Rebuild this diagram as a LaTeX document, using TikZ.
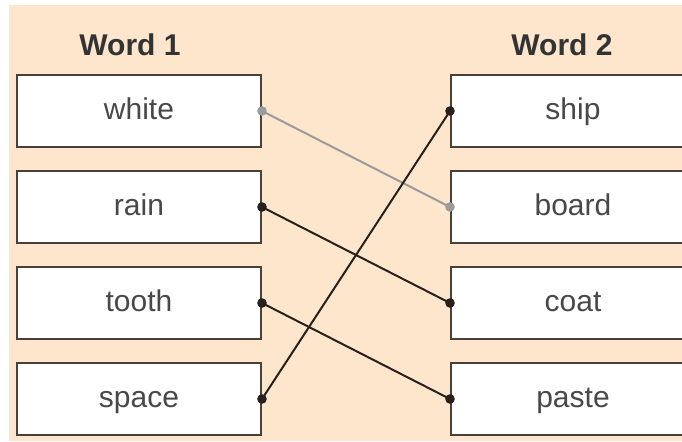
\documentclass[tikz,border=0pt]{standalone}
\usepackage{fontspec}
\setmainfont{Liberation Sans}
\usetikzlibrary{positioning}
\definecolor{peach}{RGB}{253,230,204}
\definecolor{boxline}{RGB}{72,64,58}
\definecolor{wordtext}{RGB}{72,72,72}
\definecolor{darkline}{RGB}{40,32,28}
\definecolor{greyline}{RGB}{155,155,155}

\begin{document}
\begin{tikzpicture}[x=0.5pt,y=-0.5pt]
\tikzstyle{word} = [rectangle, draw=boxline, line width=1pt, fill=white,
minimum width=122pt, minimum height=36pt, inner sep=0pt,
text=wordtext, text height=0.8em, text depth=0pt, font=\fontsize{15}{17}\selectfont]
\tikzstyle{heading} = [font=\bfseries\fontsize{15}{18}\selectfont, text=black!80]
\tikzstyle{line} = [draw, line width=1pt];
\tikzstyle{dot} = [radius=2.4pt];

\useasboundingbox (0,0) rectangle (682,441);
\clip (0,0) rectangle (682,441);
\fill[white] (0,0) rectangle (682,441);
\fill[peach] (9,5) rectangle (682,441);

% column 1
\node [heading] (word1) at (130,45) {Word 1};
\node [word] (white) at (139,111) {white};
\node [word, below=11pt of white] (rain) {rain};
\node [word, below=11pt of rain] (tooth) {tooth};
\node [word, below=11pt of tooth] (space) {space};

% column 2
\node [heading] (word2) at (562,45) {Word 2};
\node [word, right=94pt of white] (ship) {ship};
\node [word, right=94pt of rain] (board) {board};
\node [word, right=94pt of tooth] (coat) {coat};
\node [word, right=94pt of space] (paste) {paste};

% matches
\path [line, draw=greyline] (white.east) -- (board.west);
\path [line, draw=darkline] (space.east) -- (ship.west);
\path [line, draw=darkline] (rain.east) -- (coat.west);
\path [line, draw=darkline] (tooth.east) -- (paste.west);

\fill [greyline, dot] (white.east) circle;
\fill [greyline, dot] (board.west) circle;
\fill [darkline, dot] (space.east) circle;
\fill [darkline, dot] (ship.west) circle;
\fill [darkline, dot] (rain.east) circle;
\fill [darkline, dot] (coat.west) circle;
\fill [darkline, dot] (tooth.east) circle;
\fill [darkline, dot] (paste.west) circle;

\end{tikzpicture}
\end{document}
